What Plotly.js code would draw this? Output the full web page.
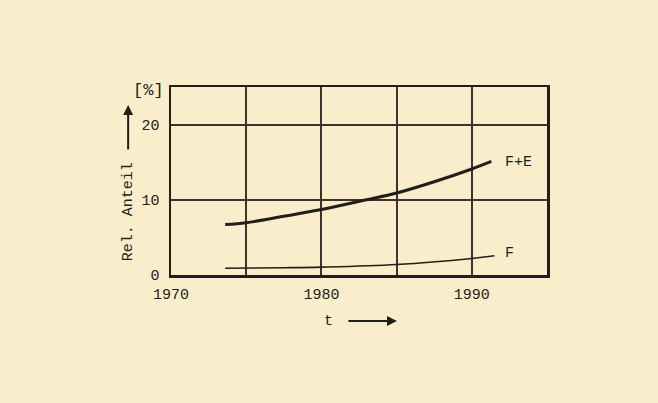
<!DOCTYPE html>
<html>
<head>
<meta charset="utf-8">
<script src="https://cdn.plot.ly/plotly-3.0.1.min.js"></script>
<style>html,body{margin:0;padding:0;background:#f9edcb;}#chart{width:658px;height:403px;}</style>
</head>
<body>
<div id="chart"></div>
<script>
const yearsFE = [1973.6, 1975, 1977.5, 1980, 1983, 1985, 1987.5, 1990, 1991.3];
const valuesFE = [6.7, 6.95, 7.8, 8.7, 10.0, 10.9, 12.4, 14.1, 15.1];
const yearsF = [1973.6, 1977.5, 1980, 1985, 1990, 1991.5];
const valuesF = [0.9, 0.97, 1.05, 1.4, 2.2, 2.55];
const xTickVals = [1970, 1975, 1980, 1985, 1990, 1995];
const xTickText = ['1970', '', '1980', '', '1990', ''];
const yTickVals = [0, 10, 20];
const yTickText = ['0', '10', '20'];

const ink = '#221e1a';
const font = {family: 'Liberation Mono, DejaVu Sans Mono, monospace', size: 15, color: ink};

const traces = [
  {x: yearsFE, y: valuesFE, mode: 'lines', line: {color: ink, width: 3, shape: 'spline'}, name: 'F+E', hoverinfo: 'skip'},
  {x: yearsF, y: valuesF, mode: 'lines', line: {color: ink, width: 1.6, shape: 'spline'}, name: 'F', hoverinfo: 'skip'}
];

const layout = {
  width: 658, height: 403,
  margin: {l: 171, r: 111, t: 87, b: 128},
  paper_bgcolor: '#f9edcb', plot_bgcolor: '#f9edcb',
  showlegend: false,
  font: font,
  xaxis: {
    range: [1970, 1995], tickvals: xTickVals, ticktext: xTickText,
    showgrid: true, gridcolor: '#3a342c', gridwidth: 2,
    showline: true, mirror: true, linecolor: ink, linewidth: 2.5,
    ticks: '', zeroline: false, tickfont: font, ticklabelstandoff: 3
  },
  yaxis: {
    range: [0, 25], tickvals: yTickVals, ticktext: yTickText,
    showgrid: true, gridcolor: '#3a342c', gridwidth: 2,
    showline: true, mirror: true, linecolor: ink, linewidth: 2.5,
    ticks: '', zeroline: false, tickfont: font, ticklabelstandoff: 6
  },
  annotations: [
    {text: 'F+E', x: 1992.1, y: 15.0, xref: 'x', yref: 'y', xanchor: 'left', yanchor: 'middle', showarrow: false, font: font},
    {text: 'F', x: 1992.1, y: 2.9, xref: 'x', yref: 'y', xanchor: 'left', yanchor: 'middle', showarrow: false, font: font},
    {text: '[%]', x: -0.059, y: 0.98, xref: 'paper', yref: 'paper', xanchor: 'center', yanchor: 'middle', showarrow: false, font: {family: font.family, size: 17, color: ink}},
    {text: 'Rel. Anteil', x: -0.114, y: 0.335, xref: 'paper', yref: 'paper', textangle: -90, xanchor: 'center', yanchor: 'middle', showarrow: false, font: font},
    {text: '', x: -0.114, y: 0.904, xref: 'paper', yref: 'paper', showarrow: true, ax: 0, ay: 46, arrowhead: 2, arrowsize: 1, arrowwidth: 2, arrowcolor: ink},
    {text: 't', x: 0.418, y: -0.245, xref: 'paper', yref: 'paper', xanchor: 'center', yanchor: 'middle', showarrow: false, font: font},
    {text: '', x: 0.601, y: -0.245, xref: 'paper', yref: 'paper', showarrow: true, ax: -50, ay: 0, arrowhead: 2, arrowsize: 1, arrowwidth: 2, arrowcolor: ink}
  ]
};

Plotly.newPlot('chart', traces, layout, {staticPlot: true, displayModeBar: false});
</script>
</body>
</html>
